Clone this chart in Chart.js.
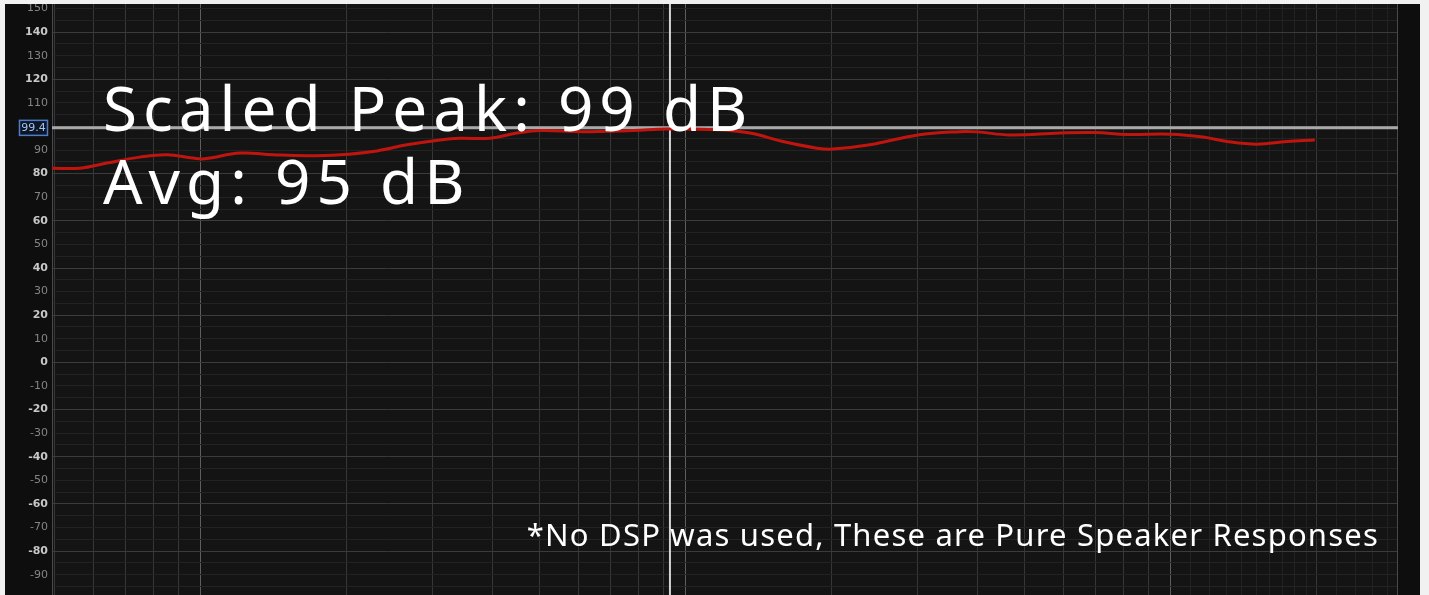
<!DOCTYPE html>
<html>
<head>
<meta charset="utf-8">
<script src="https://cdn.jsdelivr.net/npm/chart.js@4.4.1/dist/chart.umd.min.js"></script>
<style>
  html, body { margin: 0; padding: 0; background: #f1f1f1; overflow: hidden; width: 1429px; height: 595px; }
  #panel { position: absolute; left: 5px; top: 4px; width: 1415px; height: 591px; background: #0e0e0e; }
</style>
</head>
<body>
<div id="panel"><canvas id="myChart"></canvas></div>
<script>
const freqHz = [49.3, 56.3, 64, 74.8, 85.1, 96.3, 101.9, 120.3, 140.8, 165.4, 193.5, 226.2, 265.9, 311, 342, 394.4,
  448.3, 500, 613, 777.6, 913.7, 1158, 1355, 1585, 1863, 2010, 2395, 3009, 3672, 3982, 4656, 5904, 6970, 8118,
  10000, 11640, 13050, 15040, 17350, 19810];
const splDb = [82.3, 82.3, 84.5, 87.0, 88.0, 86.6, 86.3, 88.7, 88.0, 87.6, 88.0, 89.4, 92.2, 94.3, 95.0, 95.0,
  97.2, 98.3, 97.8, 98.3, 98.9, 98.6, 97.2, 93.6, 90.8, 90.4, 92.2, 96.4, 97.8, 97.7, 96.4, 97.2, 97.4, 96.6,
  96.7, 95.5, 93.6, 92.5, 93.6, 94.3];

// cursor position
const cursorFreq = 927;
const cursorDb = 99.4;

const titleLines = ['Scaled Peak: 99 dB', 'Avg: 95 dB'];
const noteText = '*No DSP was used, These are Pure Speaker Responses';

const xMin = 49.3, xMax = 29400;
const yMin = -98.6, yMax = 151.9;

// frequency grid lines
const xGrid = [];
[10, 100, 1000, 10000].forEach(d => {
  for (let m = 1; m <= 9; m++) xGrid.push(m * d);
});
for (let f = 11000; f < 20000; f += 1000) xGrid.push(f);
for (let f = 22000; f < 30000; f += 2000) xGrid.push(f);

const yGrid = [];
for (let v = -95; v <= 150; v += 5) yGrid.push(v);

const xGridColor = (v) => {
  if (v === undefined) return '#373737';
  const l = Math.log10(v);
  if (Math.abs(l - Math.round(l)) < 1e-6) return '#5e5e5e';
  const d = Math.pow(10, Math.floor(l + 1e-9));
  if (Math.abs(v / d - Math.round(v / d)) < 1e-6) return '#373737';
  return '#222222';
};
const isMajorDb = (c) => !!c.tick && c.tick.value % 20 === 0;

const overlay = {
  id: 'overlay',
  beforeDraw(chart) {
    const { ctx, chartArea: a } = chart;
    ctx.save();
    ctx.fillStyle = '#141414';
    ctx.fillRect(a.left, a.top, a.right - a.left, a.bottom - a.top);
    ctx.restore();
  },
  beforeDatasetsDraw(chart) {
    const { ctx, chartArea: a, scales } = chart;
    ctx.save();
    ctx.strokeStyle = '#4a4a4a';
    ctx.lineWidth = 1;
    ctx.strokeRect(a.left + 0.5, a.top - 1, a.right - a.left - 1, a.bottom - a.top + 2);
    const cy = scales.y.getPixelForValue(cursorDb);
    ctx.strokeStyle = '#a9a9a9';
    ctx.lineWidth = 3;
    ctx.beginPath();
    ctx.moveTo(a.left, cy);
    ctx.lineTo(a.right, cy);
    ctx.stroke();
    const cx = scales.x.getPixelForValue(cursorFreq);
    ctx.strokeStyle = '#d4d4d4';
    ctx.lineWidth = 2;
    ctx.beginPath();
    ctx.moveTo(cx, a.top);
    ctx.lineTo(cx, a.bottom);
    ctx.stroke();
    ctx.restore();
  },
  afterDraw(chart) {
    const { ctx, scales } = chart;
    ctx.save();
    // cursor value box
    const cy = scales.y.getPixelForValue(cursorDb);
    ctx.fillStyle = '#0c1626';
    ctx.fillRect(14, cy - 8, 29, 16);
    ctx.strokeStyle = '#4f7cc4';
    ctx.lineWidth = 1.5;
    ctx.strokeRect(14.5, cy - 7.5, 28, 15);
    ctx.fillStyle = '#a8c2ec';
    ctx.font = '11px "DejaVu Sans"';
    ctx.textAlign = 'center';
    ctx.textBaseline = 'middle';
    ctx.fillText(cursorDb.toFixed(1), 28.5, cy + 0.5);

    // annotations
    ctx.fillStyle = '#ffffff';
    ctx.textAlign = 'left';
    ctx.textBaseline = 'alphabetic';
    ctx.font = '400 62px "Noto Sans"';
    ctx.letterSpacing = '6px';
    ctx.fillText(titleLines[0], 98, 127);
    ctx.fillText(titleLines[1], 98, 200);
    ctx.font = '400 31px "Noto Sans"';
    ctx.letterSpacing = '1.2px';
    ctx.textAlign = 'right';
    ctx.fillText(noteText, 1374, 542);
    ctx.restore();
  }
};

const ctx = document.getElementById('myChart');
new Chart(ctx, {
  type: 'line',
  data: {
    datasets: [{
      label: 'SPL',
      data: freqHz.map((f, i) => ({ x: f, y: splDb[i] })),
      borderColor: '#c0150f',
      borderWidth: 3,
      pointRadius: 0,
      tension: 0.4,
      fill: false
    }]
  },
  options: {
    responsive: true,
    maintainAspectRatio: false,
    animation: false,
    layout: { padding: { left: 0, right: 22, top: 0, bottom: 0 } },
    plugins: { legend: { display: false }, tooltip: { enabled: false } },
    scales: {
      x: {
        type: 'logarithmic',
        min: xMin,
        max: xMax,
        afterBuildTicks: (s) => { s.ticks = xGrid.filter(v => v >= xMin && v <= xMax).map(v => ({ value: v })); },
        afterFit: (s) => { s.height = 0; },
        ticks: { display: false },
        grid: { color: (c) => xGridColor(c.tick ? c.tick.value : undefined), drawTicks: false, lineWidth: 1 },
        border: { display: false }
      },
      y: {
        min: yMin,
        max: yMax,
        afterBuildTicks: (s) => { s.ticks = yGrid.map(v => ({ value: v })); },
        afterFit: (s) => { s.width = 47; s.paddingTop = 0; s.paddingBottom = 0; },
        ticks: {
          autoSkip: false,
          padding: 4,
          callback: (v) => (v % 10 === 0 ? String(v) : ''),
          color: (c) => (isMajorDb(c) ? '#c8c8c8' : '#858585'),
          font: (c) => ({ family: 'DejaVu Sans', size: 11, weight: isMajorDb(c) ? 'bold' : 'normal' })
        },
        grid: { color: (c) => (isMajorDb(c) ? '#3b3b3b' : '#232323'), drawTicks: false, lineWidth: 1 },
        border: { display: false }
      }
    }
  },
  plugins: [overlay]
});
</script>
</body>
</html>
